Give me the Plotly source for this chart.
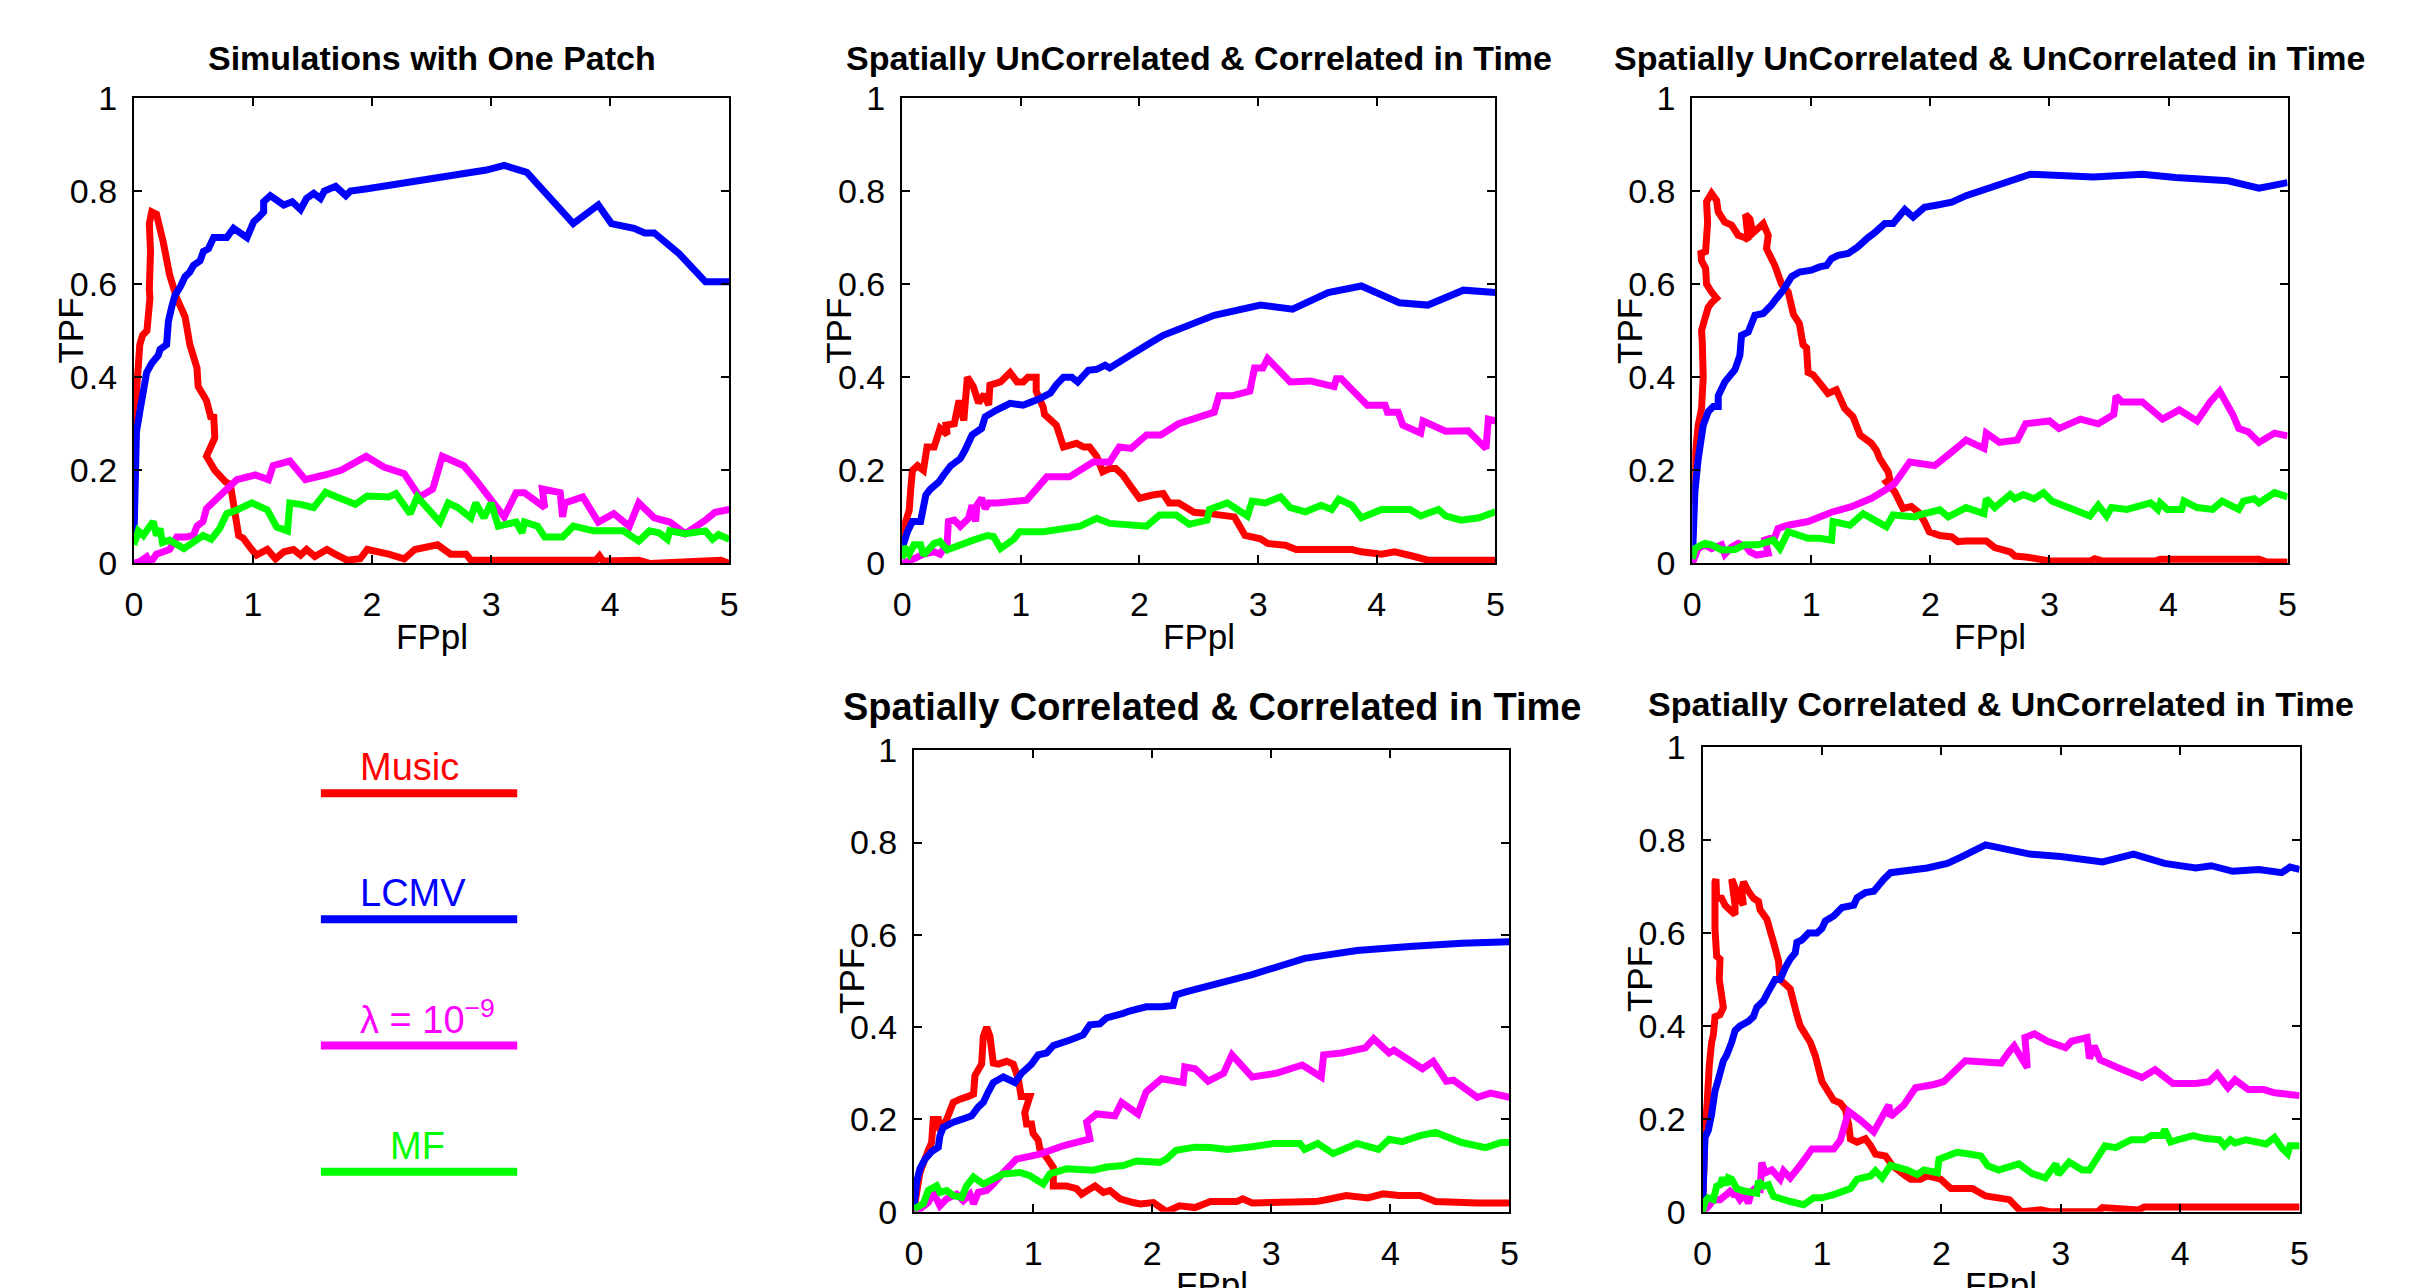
import plotly.graph_objects as go

FONT = "Liberation Sans, Arial, Helvetica, sans-serif"

# ---------------- data ----------------
METHOD_NAMES = ["Music", "LCMV", "λ = 10<sup>−9</sup>", "MF"]
METHOD_COLORS = ["#ff0000", "#0000ff", "#ff00ff", "#00ff00"]

PANEL_TITLES = [
    "Simulations with One Patch",
    "Spatially UnCorrelated & Correlated in Time",
    "Spatially UnCorrelated & UnCorrelated in Time",
    "Spatially Correlated & Correlated in Time",
    "Spatially Correlated & UnCorrelated in Time",
]
X_LABEL = "FPpl"
Y_LABEL = "TPF"
X_TICKS = [0, 1, 2, 3, 4, 5]
X_TICK_TEXT = ["0", "1", "2", "3", "4", "5"]
Y_TICKS = [0, 0.2, 0.4, 0.6, 0.8, 1]
Y_TICK_TEXT = ["0", "0.2", "0.4", "0.6", "0.8", "1"]

# Panel 1: Simulations with One Patch
P1_MUSIC_X = [0, 0.012, 0.022, 0.05, 0.073, 0.11, 0.135, 0.13, 0.14, 0.13, 0.15, 0.19, 0.247, 0.30, 0.36, 0.43, 0.47, 0.53, 0.54, 0.61, 0.65, 0.67, 0.68, 0.61, 0.68, 0.77, 0.81, 0.88, 0.92, 0.99, 1.03, 1.12, 1.19, 1.26, 1.34, 1.40, 1.45, 1.52, 1.62, 1.69, 1.79, 1.90, 1.96, 2.14, 2.27, 2.36, 2.55, 2.66, 2.79, 2.83, 3.88, 3.91, 3.94, 4.24, 4.33, 4.93, 5.0]
P1_MUSIC_Y = [0.22, 0.30, 0.37, 0.47, 0.49, 0.50, 0.57, 0.59, 0.67, 0.73, 0.755, 0.75, 0.69, 0.62, 0.57, 0.53, 0.47, 0.42, 0.38, 0.35, 0.31, 0.32, 0.27, 0.23, 0.20, 0.175, 0.17, 0.06, 0.054, 0.03, 0.018, 0.03, 0.01, 0.025, 0.03, 0.018, 0.03, 0.015, 0.03, 0.02, 0.007, 0.01, 0.03, 0.02, 0.01, 0.03, 0.04, 0.02, 0.02, 0.007, 0.007, 0.016, 0.005, 0.007, 0.0, 0.007, 0.0]
P1_LCMV_X = [0, 0.022, 0.05, 0.107, 0.15, 0.205, 0.22, 0.275, 0.29, 0.317, 0.345, 0.39, 0.43, 0.47, 0.50, 0.556, 0.584, 0.626, 0.67, 0.78, 0.837, 0.893, 0.95, 1.006, 1.05, 1.09, 1.09, 1.146, 1.258, 1.33, 1.40, 1.45, 1.51, 1.567, 1.60, 1.694, 1.78, 1.82, 1.96, 2.96, 3.11, 3.30, 3.69, 3.90, 4.01, 4.20, 4.29, 4.37, 4.58, 4.80, 5.0]
P1_LCMV_Y = [0.047, 0.283, 0.326, 0.41, 0.43, 0.447, 0.46, 0.47, 0.52, 0.55, 0.576, 0.594, 0.616, 0.626, 0.64, 0.65, 0.67, 0.676, 0.70, 0.70, 0.72, 0.71, 0.70, 0.734, 0.744, 0.755, 0.777, 0.79, 0.77, 0.777, 0.76, 0.784, 0.795, 0.784, 0.80, 0.81, 0.79, 0.80, 0.805, 0.845, 0.855, 0.84, 0.73, 0.77, 0.73, 0.72, 0.71, 0.71, 0.665, 0.605, 0.605]
P1_LAMBDA_X = [0, 0.05, 0.107, 0.135, 0.19, 0.247, 0.30, 0.36, 0.44, 0.50, 0.53, 0.58, 0.61, 0.70, 0.865, 1.02, 1.13, 1.17, 1.31, 1.44, 1.60, 1.74, 1.95, 2.10, 2.27, 2.40, 2.51, 2.59, 2.77, 2.87, 3.11, 3.21, 3.28, 3.45, 3.43, 3.58, 3.60, 3.62, 3.77, 3.90, 4.03, 4.16, 4.24, 4.37, 4.50, 4.63, 4.80, 4.88, 5.0]
P1_LAMBDA_Y = [0, 0.004, 0.014, 0.0, 0.02, 0.025, 0.03, 0.057, 0.057, 0.06, 0.08, 0.09, 0.118, 0.14, 0.18, 0.19, 0.18, 0.21, 0.22, 0.18, 0.19, 0.20, 0.23, 0.207, 0.193, 0.143, 0.16, 0.23, 0.21, 0.18, 0.10, 0.152, 0.152, 0.12, 0.16, 0.152, 0.10, 0.13, 0.143, 0.089, 0.107, 0.08, 0.13, 0.098, 0.089, 0.064, 0.093, 0.11, 0.116]
P1_MF_X = [0, 0.037, 0.08, 0.107, 0.163, 0.19, 0.22, 0.24, 0.30, 0.42, 0.50, 0.58, 0.65, 0.72, 0.78, 0.865, 0.99, 1.12, 1.20, 1.29, 1.31, 1.40, 1.51, 1.61, 1.71, 1.86, 1.96, 2.14, 2.20, 2.32, 2.38, 2.57, 2.64, 2.72, 2.83, 2.87, 2.94, 3.0, 3.06, 3.21, 3.26, 3.28, 3.39, 3.45, 3.60, 3.69, 3.86, 4.11, 4.24, 4.33, 4.41, 4.48, 4.50, 4.63, 4.80, 4.86, 4.91, 5.0]
P1_MF_Y = [0.04, 0.07, 0.06, 0.07, 0.09, 0.06, 0.075, 0.045, 0.05, 0.032, 0.046, 0.06, 0.052, 0.075, 0.107, 0.115, 0.13, 0.115, 0.078, 0.07, 0.13, 0.127, 0.12, 0.153, 0.142, 0.127, 0.145, 0.143, 0.15, 0.107, 0.143, 0.089, 0.13, 0.12, 0.098, 0.13, 0.098, 0.13, 0.08, 0.089, 0.066, 0.089, 0.08, 0.057, 0.057, 0.08, 0.07, 0.07, 0.048, 0.07, 0.066, 0.052, 0.07, 0.064, 0.07, 0.052, 0.062, 0.052]

# Panel 2: Spatially UnCorrelated & Correlated in Time
P2_MUSIC_X = [0, 0.03, 0.06, 0.073, 0.087, 0.13, 0.18, 0.21, 0.27, 0.32, 0.38, 0.37, 0.44, 0.48, 0.52, 0.55, 0.60, 0.645, 0.69, 0.73, 0.74, 0.83, 0.91, 0.97, 1.02, 1.06, 1.13, 1.13, 1.19, 1.20, 1.30, 1.36, 1.47, 1.53, 1.58, 1.64, 1.69, 1.75, 1.80, 1.86, 1.92, 2.0, 2.11, 2.20, 2.25, 2.33, 2.46, 2.59, 2.80, 2.89, 3.02, 3.08, 3.23, 3.32, 3.79, 3.87, 4.04, 4.15, 4.30, 4.43, 5.0]
P2_MUSIC_Y = [0.047, 0.09, 0.114, 0.16, 0.20, 0.21, 0.20, 0.25, 0.25, 0.29, 0.277, 0.297, 0.30, 0.35, 0.307, 0.40, 0.38, 0.345, 0.363, 0.34, 0.383, 0.39, 0.41, 0.39, 0.39, 0.40, 0.40, 0.37, 0.335, 0.32, 0.297, 0.25, 0.258, 0.25, 0.25, 0.23, 0.197, 0.204, 0.204, 0.19, 0.168, 0.14, 0.147, 0.15, 0.13, 0.13, 0.11, 0.107, 0.10, 0.06, 0.053, 0.043, 0.039, 0.03, 0.03, 0.025, 0.02, 0.025, 0.016, 0.007, 0.007]
P2_LCMV_X = [0, 0.045, 0.087, 0.156, 0.20, 0.24, 0.31, 0.35, 0.41, 0.49, 0.53, 0.59, 0.67, 0.70, 0.80, 0.91, 1.02, 1.08, 1.16, 1.25, 1.30, 1.36, 1.43, 1.48, 1.57, 1.64, 1.71, 1.75, 1.92, 2.08, 2.20, 2.63, 3.02, 3.29, 3.59, 3.87, 4.19, 4.43, 4.73, 5.0]
P2_LCMV_Y = [0.032, 0.068, 0.09, 0.09, 0.147, 0.16, 0.175, 0.19, 0.21, 0.225, 0.243, 0.276, 0.29, 0.315, 0.33, 0.344, 0.34, 0.346, 0.354, 0.366, 0.384, 0.40, 0.40, 0.39, 0.415, 0.417, 0.426, 0.42, 0.447, 0.472, 0.49, 0.533, 0.555, 0.546, 0.582, 0.596, 0.56, 0.555, 0.587, 0.582]
P2_LAMBDA_X = [0, 0.10, 0.18, 0.27, 0.32, 0.38, 0.39, 0.44, 0.49, 0.56, 0.59, 0.62, 0.63, 0.67, 0.70, 0.73, 0.80, 1.05, 1.22, 1.41, 1.61, 1.75, 1.83, 1.93, 2.06, 2.18, 2.33, 2.63, 2.67, 2.78, 2.93, 2.97, 3.04, 3.08, 3.27, 3.44, 3.64, 3.66, 3.70, 3.92, 4.07, 4.09, 4.18, 4.22, 4.37, 4.39, 4.58, 4.77, 4.92, 4.94, 5.0]
P2_LAMBDA_Y = [0, 0.01, 0.02, 0.025, 0.02, 0.043, 0.09, 0.093, 0.08, 0.097, 0.125, 0.09, 0.125, 0.14, 0.118, 0.13, 0.13, 0.136, 0.186, 0.186, 0.218, 0.218, 0.25, 0.247, 0.276, 0.276, 0.30, 0.325, 0.36, 0.36, 0.37, 0.42, 0.42, 0.44, 0.39, 0.392, 0.38, 0.397, 0.397, 0.34, 0.34, 0.325, 0.325, 0.297, 0.28, 0.306, 0.284, 0.285, 0.247, 0.31, 0.306]
P2_MF_X = [0, 0.017, 0.06, 0.10, 0.156, 0.18, 0.23, 0.27, 0.32, 0.38, 0.41, 0.60, 0.72, 0.77, 0.83, 0.94, 0.99, 1.19, 1.50, 1.64, 1.75, 2.06, 2.17, 2.31, 2.42, 2.57, 2.59, 2.74, 2.91, 2.95, 3.06, 3.19, 3.27, 3.40, 3.53, 3.62, 3.68, 3.79, 3.87, 4.04, 4.28, 4.37, 4.52, 4.58, 4.71, 4.86, 5.0]
P2_MF_Y = [0.01, 0.036, 0.02, 0.04, 0.04, 0.018, 0.032, 0.043, 0.047, 0.029, 0.032, 0.05, 0.06, 0.058, 0.032, 0.052, 0.068, 0.068, 0.08, 0.097, 0.086, 0.08, 0.104, 0.104, 0.084, 0.093, 0.116, 0.13, 0.102, 0.134, 0.13, 0.143, 0.12, 0.111, 0.125, 0.116, 0.138, 0.125, 0.098, 0.116, 0.116, 0.102, 0.116, 0.102, 0.093, 0.098, 0.111]

# Panel 3: Spatially UnCorrelated & UnCorrelated in Time
P3_MUSIC_X = [0, 0.022, 0.05, 0.078, 0.092, 0.084, 0.078, 0.106, 0.134, 0.162, 0.204, 0.162, 0.12, 0.112, 0.078, 0.073, 0.112, 0.129, 0.12, 0.162, 0.204, 0.218, 0.274, 0.33, 0.386, 0.44, 0.47, 0.447, 0.484, 0.51, 0.554, 0.596, 0.638, 0.624, 0.694, 0.75, 0.806, 0.85, 0.90, 0.93, 0.96, 0.973, 1.015, 1.085, 1.14, 1.21, 1.28, 1.35, 1.41, 1.505, 1.547, 1.575, 1.645, 1.66, 1.63, 1.70, 1.77, 1.84, 1.90, 1.95, 1.99, 2.08, 2.18, 2.23, 2.30, 2.47, 2.54, 2.67, 2.71, 2.80, 3.02, 3.34, 3.38, 3.45, 3.89, 3.93, 4.76, 4.83, 5.0]
P3_MUSIC_Y = [0.13, 0.225, 0.297, 0.333, 0.40, 0.476, 0.50, 0.526, 0.55, 0.56, 0.57, 0.583, 0.60, 0.634, 0.65, 0.666, 0.67, 0.733, 0.777, 0.795, 0.78, 0.755, 0.733, 0.727, 0.705, 0.70, 0.695, 0.75, 0.74, 0.71, 0.72, 0.73, 0.705, 0.676, 0.64, 0.60, 0.583, 0.535, 0.515, 0.47, 0.463, 0.41, 0.405, 0.383, 0.365, 0.373, 0.333, 0.315, 0.276, 0.258, 0.243, 0.225, 0.197, 0.18, 0.175, 0.154, 0.118, 0.122, 0.11, 0.09, 0.068, 0.06, 0.057, 0.047, 0.048, 0.048, 0.034, 0.025, 0.016, 0.014, 0.005, 0.005, 0.01, 0.005, 0.005, 0.009, 0.009, 0.003, 0.003]
P3_LCMV_X = [0, 0.022, 0.05, 0.092, 0.134, 0.176, 0.218, 0.218, 0.274, 0.358, 0.40, 0.414, 0.47, 0.526, 0.596, 0.666, 0.694, 0.764, 0.834, 0.90, 1.00, 1.07, 1.127, 1.17, 1.225, 1.31, 1.39, 1.477, 1.53, 1.617, 1.687, 1.785, 1.855, 1.95, 2.06, 2.18, 2.30, 2.84, 3.37, 3.78, 4.06, 4.50, 4.76, 5.0]
P3_LCMV_Y = [0, 0.154, 0.225, 0.297, 0.326, 0.337, 0.337, 0.36, 0.39, 0.416, 0.447, 0.49, 0.497, 0.533, 0.537, 0.555, 0.565, 0.587, 0.616, 0.626, 0.63, 0.637, 0.64, 0.655, 0.662, 0.666, 0.68, 0.70, 0.71, 0.73, 0.73, 0.76, 0.744, 0.765, 0.77, 0.776, 0.79, 0.836, 0.83, 0.836, 0.829, 0.822, 0.806, 0.818]
P3_LAMBDA_X = [0, 0.05, 0.106, 0.162, 0.246, 0.274, 0.33, 0.386, 0.456, 0.484, 0.54, 0.638, 0.61, 0.694, 0.72, 0.806, 0.973, 1.17, 1.337, 1.505, 1.617, 1.70, 1.827, 2.036, 2.148, 2.30, 2.45, 2.47, 2.58, 2.73, 2.80, 3.00, 3.08, 3.26, 3.41, 3.54, 3.56, 3.61, 3.78, 3.95, 4.09, 4.24, 4.35, 4.43, 4.54, 4.59, 4.67, 4.76, 4.89, 5.0]
P3_LAMBDA_Y = [0, 0.032, 0.04, 0.032, 0.04, 0.02, 0.035, 0.043, 0.035, 0.025, 0.018, 0.022, 0.05, 0.057, 0.075, 0.082, 0.09, 0.11, 0.122, 0.14, 0.157, 0.172, 0.218, 0.21, 0.233, 0.265, 0.247, 0.28, 0.26, 0.265, 0.30, 0.306, 0.29, 0.31, 0.30, 0.32, 0.36, 0.347, 0.347, 0.31, 0.33, 0.306, 0.347, 0.37, 0.32, 0.29, 0.283, 0.26, 0.28, 0.274]
P3_MF_X = [0, 0.022, 0.078, 0.106, 0.162, 0.246, 0.358, 0.44, 0.554, 0.68, 0.736, 0.806, 0.973, 1.07, 1.17, 1.183, 1.323, 1.435, 1.63, 1.687, 1.87, 1.90, 2.08, 2.15, 2.30, 2.45, 2.47, 2.54, 2.67, 2.71, 2.78, 2.87, 2.95, 3.02, 3.34, 3.41, 3.48, 3.52, 3.65, 3.85, 3.91, 3.93, 3.99, 4.11, 4.13, 4.24, 4.37, 4.45, 4.59, 4.63, 4.72, 4.76, 4.89, 5.0]
P3_MF_Y = [0.01, 0.032, 0.04, 0.043, 0.04, 0.029, 0.03, 0.04, 0.04, 0.05, 0.032, 0.068, 0.054, 0.054, 0.05, 0.09, 0.082, 0.107, 0.079, 0.104, 0.10, 0.104, 0.115, 0.10, 0.12, 0.107, 0.139, 0.12, 0.148, 0.139, 0.148, 0.139, 0.152, 0.134, 0.102, 0.125, 0.102, 0.12, 0.116, 0.13, 0.116, 0.13, 0.116, 0.116, 0.134, 0.12, 0.116, 0.134, 0.116, 0.134, 0.139, 0.13, 0.152, 0.143]

# Panel 4: Spatially Correlated & Correlated in Time
P4_MUSIC_X = [0, 0.05, 0.092, 0.12, 0.148, 0.162, 0.204, 0.218, 0.274, 0.33, 0.386, 0.456, 0.50, 0.512, 0.568, 0.582, 0.61, 0.638, 0.666, 0.708, 0.778, 0.834, 0.876, 0.90, 0.973, 0.93, 0.945, 0.987, 1.0, 1.043, 1.057, 1.113, 1.17, 1.17, 1.28, 1.365, 1.407, 1.52, 1.59, 1.645, 1.73, 1.84, 1.90, 2.01, 2.12, 2.23, 2.36, 2.49, 2.71, 2.76, 2.84, 3.37, 3.46, 3.63, 3.81, 3.94, 4.07, 4.25, 4.38, 4.73, 5.0]
P4_MUSIC_Y = [0.006, 0.085, 0.114, 0.133, 0.15, 0.20, 0.20, 0.175, 0.20, 0.237, 0.244, 0.25, 0.255, 0.295, 0.32, 0.38, 0.40, 0.38, 0.322, 0.32, 0.326, 0.32, 0.288, 0.25, 0.25, 0.215, 0.19, 0.19, 0.17, 0.155, 0.136, 0.118, 0.096, 0.056, 0.056, 0.05, 0.038, 0.056, 0.042, 0.046, 0.028, 0.02, 0.017, 0.02, 0.0, 0.013, 0.009, 0.022, 0.022, 0.028, 0.019, 0.022, 0.026, 0.035, 0.03, 0.039, 0.035, 0.035, 0.022, 0.019, 0.019]
P4_LCMV_X = [0, 0.022, 0.05, 0.092, 0.148, 0.204, 0.218, 0.246, 0.33, 0.40, 0.484, 0.54, 0.582, 0.624, 0.666, 0.75, 0.848, 0.903, 0.987, 1.043, 1.113, 1.17, 1.31, 1.42, 1.477, 1.56, 1.617, 1.757, 1.81, 1.95, 2.078, 2.176, 2.20, 2.29, 2.71, 2.84, 3.28, 3.72, 4.16, 4.60, 5.0]
P4_LCMV_Y = [0.01, 0.064, 0.093, 0.114, 0.13, 0.14, 0.165, 0.183, 0.194, 0.20, 0.208, 0.227, 0.237, 0.26, 0.28, 0.292, 0.28, 0.30, 0.32, 0.34, 0.344, 0.36, 0.372, 0.383, 0.405, 0.407, 0.42, 0.43, 0.435, 0.444, 0.444, 0.447, 0.47, 0.477, 0.505, 0.514, 0.549, 0.566, 0.575, 0.582, 0.585]
P4_LAMBDA_X = [0, 0.05, 0.12, 0.162, 0.218, 0.274, 0.358, 0.414, 0.47, 0.50, 0.54, 0.61, 0.666, 0.75, 0.86, 1.057, 1.253, 1.477, 1.45, 1.533, 1.687, 1.743, 1.88, 1.95, 2.078, 2.26, 2.274, 2.36, 2.47, 2.60, 2.67, 2.84, 3.04, 3.26, 3.42, 3.44, 3.59, 3.79, 3.86, 3.99, 4.03, 4.27, 4.36, 4.47, 4.53, 4.73, 4.84, 5.0]
P4_LAMBDA_Y = [0, 0.006, 0.02, 0.042, 0.013, 0.028, 0.038, 0.024, 0.038, 0.017, 0.042, 0.046, 0.06, 0.085, 0.114, 0.125, 0.143, 0.158, 0.194, 0.212, 0.208, 0.237, 0.212, 0.26, 0.288, 0.28, 0.314, 0.31, 0.283, 0.30, 0.34, 0.292, 0.30, 0.318, 0.292, 0.34, 0.344, 0.355, 0.375, 0.344, 0.35, 0.31, 0.326, 0.283, 0.285, 0.248, 0.257, 0.248]
P4_MF_X = [0, 0.078, 0.12, 0.19, 0.218, 0.274, 0.33, 0.40, 0.442, 0.50, 0.582, 0.75, 0.89, 0.973, 1.085, 1.14, 1.28, 1.505, 1.617, 1.757, 1.87, 2.064, 2.12, 2.20, 2.36, 2.49, 2.63, 2.84, 3.02, 3.24, 3.28, 3.39, 3.52, 3.72, 3.90, 3.99, 4.10, 4.25, 4.38, 4.60, 4.80, 4.93, 5.0]
P4_MF_Y = [0.006, 0.017, 0.046, 0.056, 0.042, 0.046, 0.035, 0.031, 0.056, 0.075, 0.06, 0.082, 0.085, 0.078, 0.06, 0.082, 0.093, 0.09, 0.097, 0.10, 0.11, 0.107, 0.114, 0.133, 0.14, 0.139, 0.135, 0.141, 0.148, 0.148, 0.135, 0.148, 0.126, 0.148, 0.135, 0.157, 0.152, 0.165, 0.172, 0.15, 0.139, 0.15, 0.15]

# Panel 5: Spatially Correlated & UnCorrelated in Time
P5_MUSIC_X = [0, 0.02, 0.04, 0.056, 0.076, 0.09, 0.104, 0.146, 0.174, 0.14, 0.146, 0.118, 0.104, 0.104, 0.112, 0.118, 0.16, 0.188, 0.244, 0.272, 0.272, 0.244, 0.30, 0.342, 0.328, 0.342, 0.384, 0.426, 0.468, 0.482, 0.538, 0.594, 0.636, 0.65, 0.734, 0.79, 0.818, 0.902, 0.944, 1.0, 1.098, 1.154, 1.196, 1.224, 1.238, 1.294, 1.364, 1.406, 1.448, 1.532, 1.588, 1.686, 1.742, 1.826, 1.882, 1.994, 2.08, 2.26, 2.37, 2.57, 2.63, 2.67, 2.83, 2.91, 3.31, 3.35, 3.65, 3.70, 5.0]
P5_MUSIC_Y = [0, 0.168, 0.24, 0.314, 0.365, 0.38, 0.42, 0.424, 0.44, 0.50, 0.544, 0.55, 0.61, 0.71, 0.716, 0.675, 0.675, 0.66, 0.646, 0.64, 0.66, 0.716, 0.68, 0.66, 0.69, 0.71, 0.69, 0.675, 0.668, 0.65, 0.63, 0.58, 0.54, 0.50, 0.48, 0.424, 0.40, 0.365, 0.336, 0.28, 0.24, 0.234, 0.22, 0.187, 0.157, 0.15, 0.157, 0.143, 0.124, 0.12, 0.10, 0.08, 0.07, 0.07, 0.077, 0.07, 0.05, 0.05, 0.034, 0.026, 0.01, 0.0, 0.004, 0.0, 0.0, 0.009, 0.004, 0.01, 0.01]
P5_LCMV_X = [0, 0.006, 0.02, 0.048, 0.076, 0.104, 0.132, 0.174, 0.20, 0.244, 0.272, 0.314, 0.384, 0.426, 0.454, 0.51, 0.538, 0.608, 0.65, 0.692, 0.734, 0.776, 0.79, 0.832, 0.888, 0.958, 1.0, 1.028, 1.098, 1.168, 1.266, 1.294, 1.364, 1.434, 1.518, 1.574, 1.882, 2.05, 2.16, 2.37, 2.74, 3.0, 3.35, 3.61, 3.87, 4.13, 4.26, 4.44, 4.66, 4.85, 4.92, 5.0]
P5_LCMV_Y = [0, 0.058, 0.16, 0.175, 0.21, 0.26, 0.285, 0.325, 0.336, 0.365, 0.39, 0.40, 0.41, 0.42, 0.44, 0.454, 0.468, 0.50, 0.50, 0.525, 0.544, 0.557, 0.58, 0.585, 0.60, 0.60, 0.61, 0.626, 0.637, 0.655, 0.66, 0.676, 0.687, 0.69, 0.716, 0.73, 0.74, 0.75, 0.763, 0.79, 0.77, 0.765, 0.753, 0.77, 0.75, 0.74, 0.745, 0.733, 0.737, 0.73, 0.742, 0.737]
P5_LAMBDA_X = [0, 0.048, 0.09, 0.146, 0.20, 0.23, 0.258, 0.286, 0.314, 0.356, 0.384, 0.41, 0.44, 0.482, 0.496, 0.524, 0.58, 0.65, 0.678, 0.734, 0.818, 0.916, 1.098, 1.154, 1.224, 1.322, 1.434, 1.56, 1.574, 1.686, 1.784, 1.938, 2.02, 2.20, 2.50, 2.57, 2.61, 2.65, 2.72, 2.70, 2.78, 2.89, 3.04, 3.09, 3.22, 3.24, 3.28, 3.33, 3.48, 3.68, 3.79, 3.94, 4.13, 4.24, 4.31, 4.40, 4.46, 4.57, 4.70, 4.79, 5.0]
P5_LAMBDA_Y = [0, 0.011, 0.026, 0.026, 0.037, 0.044, 0.037, 0.037, 0.026, 0.037, 0.018, 0.044, 0.05, 0.048, 0.106, 0.084, 0.09, 0.07, 0.088, 0.073, 0.10, 0.135, 0.135, 0.154, 0.216, 0.197, 0.172, 0.23, 0.205, 0.23, 0.267, 0.274, 0.28, 0.325, 0.32, 0.345, 0.357, 0.34, 0.31, 0.375, 0.383, 0.367, 0.353, 0.367, 0.375, 0.33, 0.357, 0.327, 0.31, 0.289, 0.306, 0.276, 0.276, 0.28, 0.297, 0.267, 0.284, 0.263, 0.263, 0.256, 0.25]
P5_MF_X = [0, 0.02, 0.048, 0.09, 0.118, 0.146, 0.168, 0.20, 0.216, 0.244, 0.286, 0.356, 0.454, 0.468, 0.51, 0.552, 0.594, 0.734, 0.846, 0.93, 1.0, 1.098, 1.238, 1.294, 1.406, 1.448, 1.504, 1.574, 1.714, 1.798, 1.854, 1.966, 1.98, 2.05, 2.13, 2.22, 2.33, 2.39, 2.48, 2.65, 2.76, 2.87, 2.96, 2.98, 3.07, 3.18, 3.24, 3.37, 3.46, 3.59, 3.70, 3.76, 3.85, 3.87, 3.92, 3.98, 4.11, 4.20, 4.33, 4.37, 4.42, 4.46, 4.55, 4.72, 4.79, 4.85, 4.90, 4.92, 5.0]
P5_MF_Y = [0, 0.022, 0.03, 0.026, 0.055, 0.058, 0.073, 0.058, 0.073, 0.07, 0.05, 0.044, 0.04, 0.066, 0.055, 0.058, 0.033, 0.022, 0.015, 0.03, 0.03, 0.037, 0.05, 0.07, 0.077, 0.088, 0.073, 0.10, 0.09, 0.08, 0.09, 0.084, 0.113, 0.12, 0.128, 0.125, 0.12, 0.099, 0.09, 0.103, 0.082, 0.073, 0.103, 0.08, 0.107, 0.09, 0.09, 0.142, 0.138, 0.155, 0.155, 0.164, 0.164, 0.177, 0.15, 0.155, 0.164, 0.158, 0.155, 0.142, 0.155, 0.148, 0.155, 0.146, 0.16, 0.138, 0.125, 0.142, 0.142]

# Legend panel (one short line per method, stacked top to bottom)
LEGEND_LINE_X = [0, 1]
LEGEND_LINE_Y = [3, 2, 1, 0]
LEGEND_LABEL_X = [0.19, 0.19, 0.19, 0.34]

# ---------------- layout geometry ----------------
PANEL_X_DOMAINS = [
    [0.05211, 0.30062],
    [0.37274, 0.62039],
    [0.70253, 0.95099],
    [0.37771, 0.62622],
    [0.70683, 0.95600],
]
PANEL_Y_DOMAINS = [
    [0.56444, 0.93688],
    [0.56444, 0.93688],
    [0.56444, 0.93688],
    [0.04581, 0.41498],
    [0.04581, 0.41739],
]
TITLE_Y = [0.96887, 0.96887, 0.96887, 0.44938, 0.45178]
TITLE_SIZE = [34, 34, 34, 38, 34]

PANELS = [
    [(P1_MUSIC_X, P1_MUSIC_Y), (P1_LCMV_X, P1_LCMV_Y), (P1_LAMBDA_X, P1_LAMBDA_Y), (P1_MF_X, P1_MF_Y)],
    [(P2_MUSIC_X, P2_MUSIC_Y), (P2_LCMV_X, P2_LCMV_Y), (P2_LAMBDA_X, P2_LAMBDA_Y), (P2_MF_X, P2_MF_Y)],
    [(P3_MUSIC_X, P3_MUSIC_Y), (P3_LCMV_X, P3_LCMV_Y), (P3_LAMBDA_X, P3_LAMBDA_Y), (P3_MF_X, P3_MF_Y)],
    [(P4_MUSIC_X, P4_MUSIC_Y), (P4_LCMV_X, P4_LCMV_Y), (P4_LAMBDA_X, P4_LAMBDA_Y), (P4_MF_X, P4_MF_Y)],
    [(P5_MUSIC_X, P5_MUSIC_Y), (P5_LCMV_X, P5_LCMV_Y), (P5_LAMBDA_X, P5_LAMBDA_Y), (P5_MF_X, P5_MF_Y)],
]

fig = go.Figure()

axis_common = dict(
    showline=True, linecolor="black", linewidth=2, mirror="ticks",
    ticks="inside", ticklen=8, tickwidth=2, tickcolor="black",
    showgrid=False, zeroline=False, fixedrange=True,
    tickfont=dict(family=FONT, size=34, color="black"),
)

annotations = []
for i, series in enumerate(PANELS):
    sfx = "" if i == 0 else str(i + 1)
    for (xs, ys), color, name in zip(series, METHOD_COLORS, METHOD_NAMES):
        fig.add_trace(go.Scatter(
            x=xs, y=ys, mode="lines", name=name,
            line=dict(color=color, width=7, simplify=False),
            xaxis="x" + sfx, yaxis="y" + sfx,
            showlegend=False, hoverinfo="skip",
        ))
    fig.layout["xaxis" + sfx] = dict(
        axis_common, domain=PANEL_X_DOMAINS[i], range=[0, 5], anchor="y" + sfx,
        tickmode="array", tickvals=X_TICKS, ticktext=X_TICK_TEXT, ticklabelstandoff=10,
    )
    fig.layout["yaxis" + sfx] = dict(
        axis_common, domain=PANEL_Y_DOMAINS[i], range=[0, 1], anchor="x" + sfx,
        tickmode="array", tickvals=Y_TICKS, ticktext=Y_TICK_TEXT, ticklabelstandoff=8,
    )
    # title
    annotations.append(dict(
        text="<b>" + PANEL_TITLES[i] + "</b>", xref="paper", yref="paper",
        x=sum(PANEL_X_DOMAINS[i]) / 2, y=TITLE_Y[i], xanchor="center", yanchor="middle",
        showarrow=False, font=dict(family=FONT, size=TITLE_SIZE[i], color="black"),
    ))
    # axis labels
    annotations.append(dict(
        text=X_LABEL, xref="x" + sfx + " domain", yref="y" + sfx + " domain",
        x=0.5, y=0, yshift=-73, xanchor="center", yanchor="middle",
        showarrow=False, font=dict(family=FONT, size=35, color="black"),
    ))
    annotations.append(dict(
        text=Y_LABEL, xref="x" + sfx + " domain", yref="y" + sfx + " domain",
        x=0, y=0.5, xshift=-63, xanchor="center", yanchor="middle", textangle=-90,
        showarrow=False, font=dict(family=FONT, size=35, color="black"),
    ))

# legend panel
for k, (name, color) in enumerate(zip(METHOD_NAMES, METHOD_COLORS)):
    fig.add_trace(go.Scatter(
        x=LEGEND_LINE_X, y=[LEGEND_LINE_Y[k]] * len(LEGEND_LINE_X), mode="lines",
        line=dict(color=color, width=8), xaxis="x6", yaxis="y6",
        showlegend=False, hoverinfo="skip",
    ))
    annotations.append(dict(
        text=name, xref="x6", yref="y6", x=LEGEND_LABEL_X[k], y=LEGEND_LINE_Y[k],
        xanchor="left", yanchor="bottom", yshift=3, showarrow=False,
        font=dict(family=FONT, size=38, color=color),
    ))
fig.layout["xaxis6"] = dict(domain=[0.13007, 0.21222], range=[0, 1], visible=False,
                            anchor="y6", fixedrange=True)
fig.layout["yaxis6"] = dict(domain=[0.05256, 0.40590], range=[-0.25, 3.25], visible=False,
                            anchor="x6", fixedrange=True)

fig.update_layout(
    width=2414, height=1288, autosize=False,
    margin=dict(l=0, r=0, t=0, b=0),
    paper_bgcolor="white", plot_bgcolor="white",
    annotations=annotations, showlegend=False,
    font=dict(family=FONT, color="black"),
)

fig.write_html(
    "out.html",
    config={"displayModeBar": False},
    post_script="document.body.style.margin='0';document.body.style.overflow='hidden';",
)
